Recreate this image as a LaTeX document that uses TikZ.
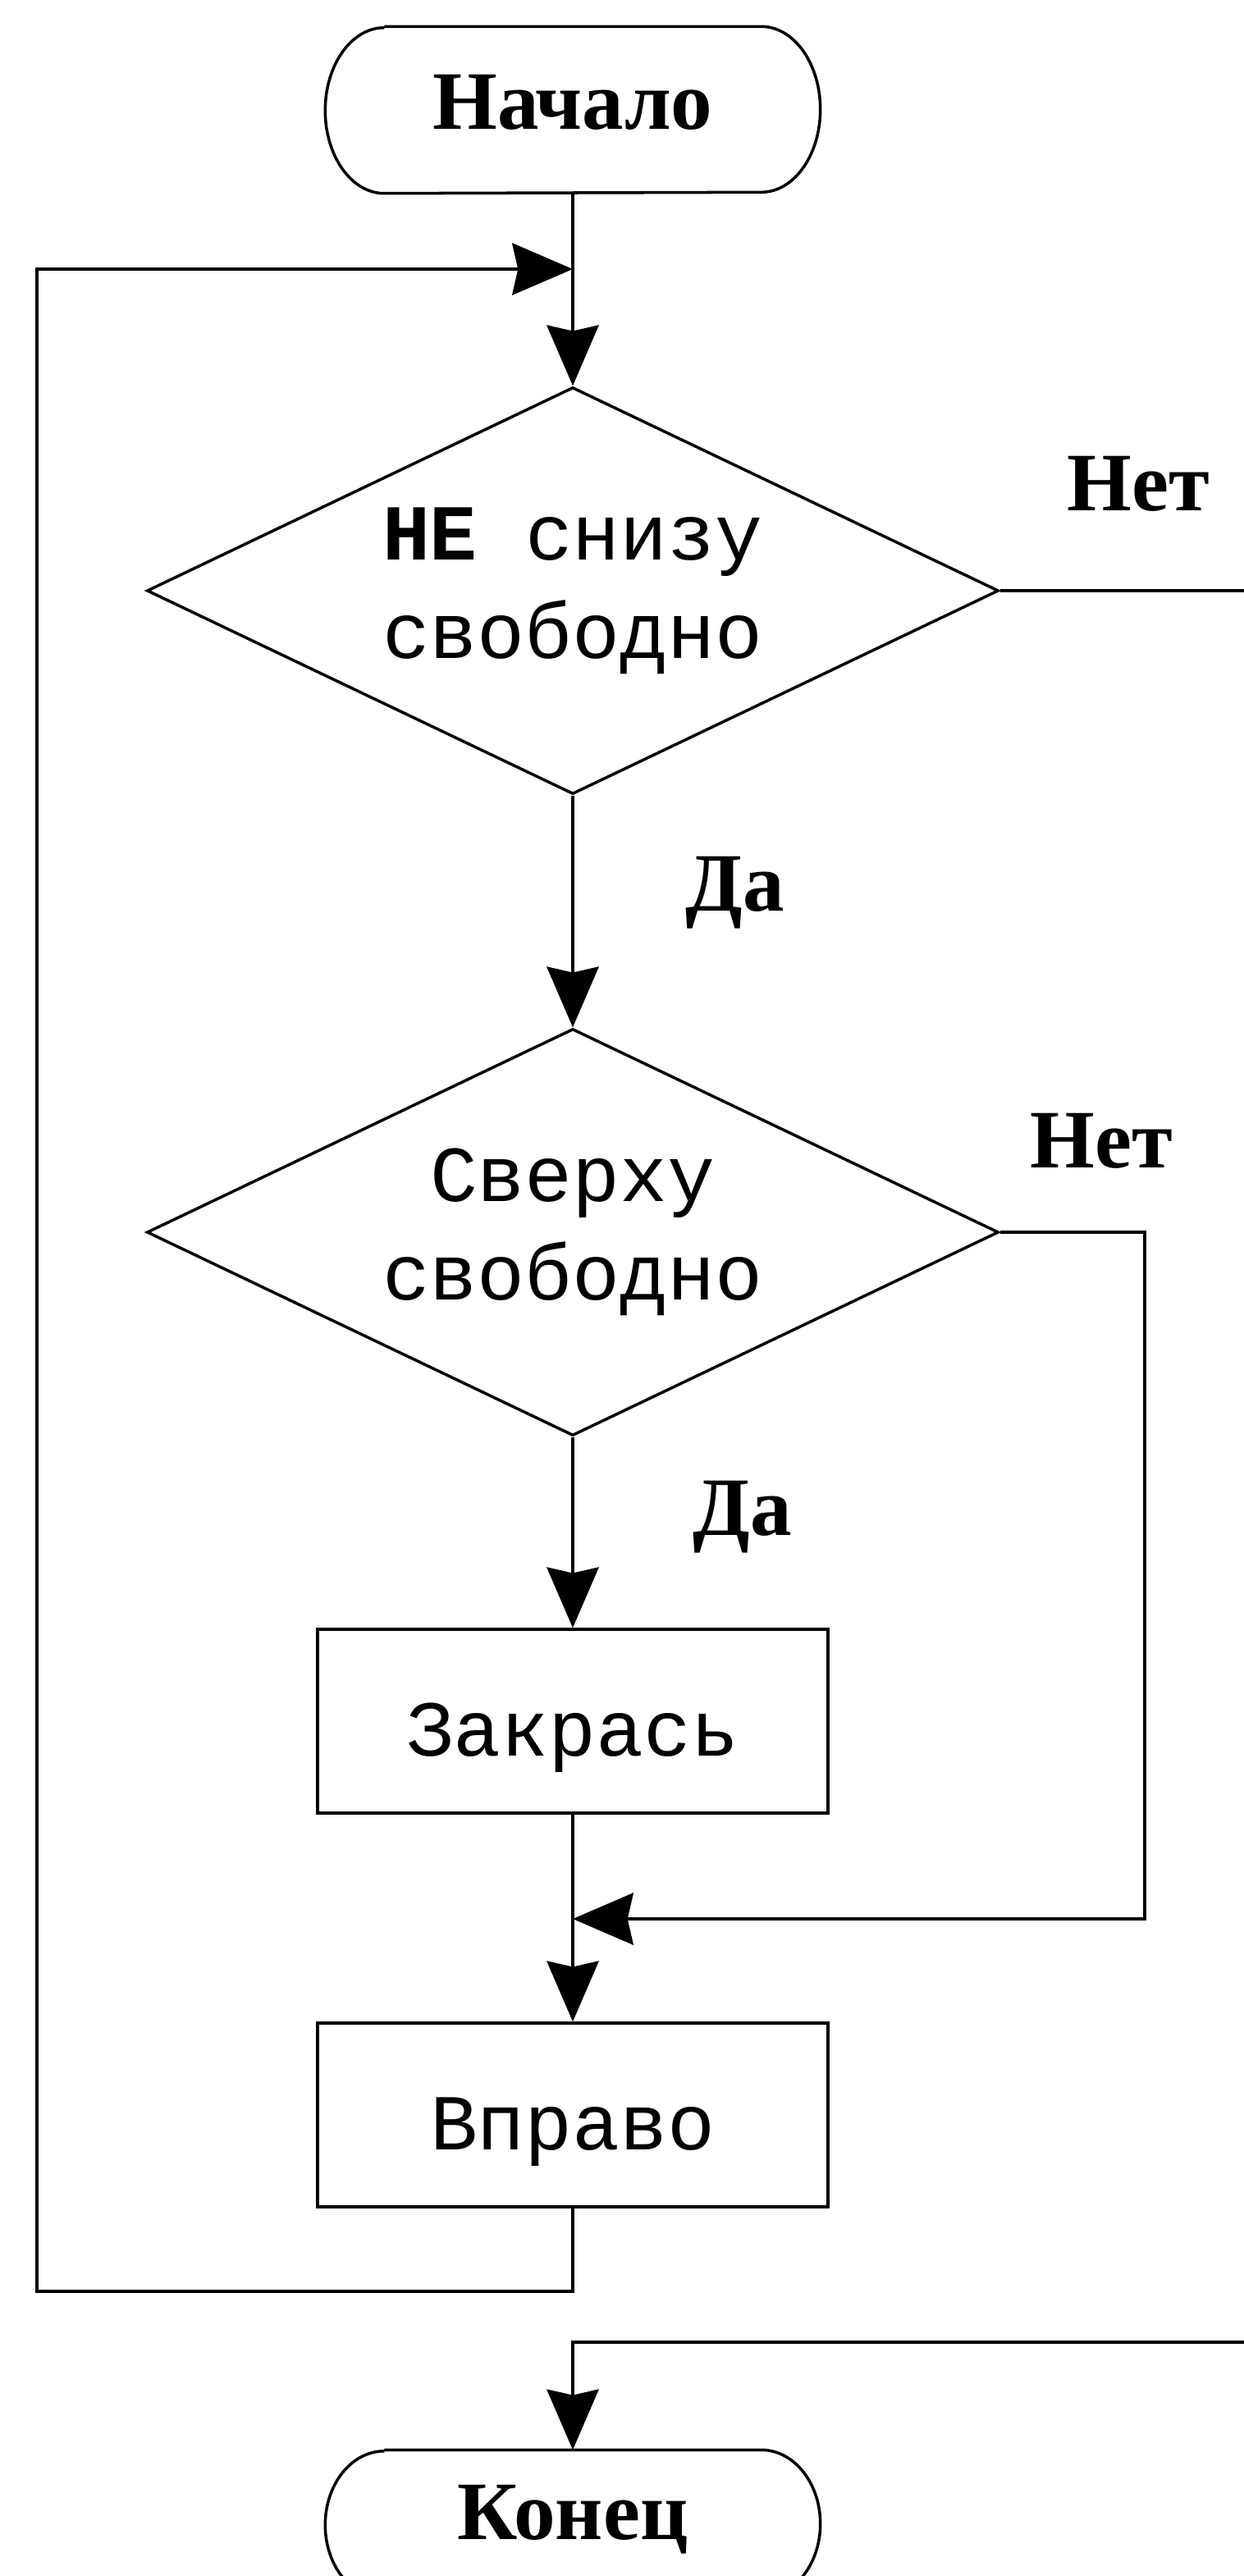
\documentclass[tikz,border=0pt]{standalone}
\usepackage{fontspec}
\setmainfont{Liberation Serif}
\setmonofont{Liberation Mono}
\usetikzlibrary{arrows.meta,shapes.geometric}
\tikzset{
    terminal/.style={minimum width=6.02cm, minimum height=#1,
                     inner sep=0pt, text depth=0pt,
                     font=\fontsize{28.8}{34}\selectfont\bfseries,
                     append after command={\pgfextra{
                         \draw[line width=1pt]
                             ([xshift=0.72cm]\tikzlastnode.north west)
                             -- ([xshift=-0.72cm]\tikzlastnode.north east)
                             arc[start angle=90, end angle=-90,
                                 x radius=0.72cm, y radius=#1/2]
                             -- ([xshift=0.72cm]\tikzlastnode.south west)
                             arc[start angle=270, end angle=90,
                                 x radius=0.72cm, y radius=#1/2];}}},
    decision/.style={diamond, draw, line width=1pt, aspect=2.09,
                     minimum width=10.38cm, minimum height=4.96cm,
                     inner sep=0pt, align=center,
                     font=\fontsize{27.5}{34.1}\selectfont\ttfamily},
    action/.style={draw, line width=1pt, minimum width=6.22cm,
                   minimum height=2.24cm, inner sep=0pt,
                   text height=0.84cm, text depth=0pt,
                   font=\fontsize{27.5}{34.1}\selectfont\ttfamily},
    answer/.style={inner sep=0pt, anchor=base west,
                   font=\fontsize{28.8}{34}\selectfont\bfseries},
    flow/.style={-{Stealth[length=21pt, width=18pt, inset=2pt]},
                 line width=1pt},
}
\begin{document}
\begin{tikzpicture}

    \path[use as bounding box, clip] (0,0) rectangle (15.16,-31.40);

    \node[terminal=2.02cm, text height=0.46cm] (start) at (6.98,-1.34) {Начало};
    \node[decision] (free1) at (6.98,-7.20) {\textbf{НЕ} снизу\\свободно};
    \node[decision] (free2) at (6.98,-15.02) {Сверху\\свободно};
    \node[action] (paint) at (6.98,-20.98) {Закрась};
    \node[action] (move) at (6.98,-25.78) {Вправо};
    \node[terminal=1.80cm, text height=0.36cm] (stop) at (6.98,-30.77) {Конец};

    \node[answer] (no1) at (13.00,-6.22) {Нет};
    \node[answer] (yes1) at (8.35,-11.10) {Да};
    \node[answer] (no2) at (12.55,-14.23) {Нет};
    \node[answer] (yes2) at (8.44,-18.71) {Да};

    \coordinate (loopin) at (6.98,-3.28);
    \coordinate (join) at (6.98,-23.39);

    \draw[flow] (start) -- (free1);
    \draw[flow] (free1) -- (free2);
    \draw[flow] (free2) -- (paint);
    \draw[flow] (paint) -- (move);
    \draw[flow] (move.south) |- (0.45,-27.93) |- (loopin);
    \draw[flow] (free2.east) -| (13.95,-23.39) -- (join);
    \draw[flow] (free1.east) -| (16.00,-28.55) -| (stop.north);

\end{tikzpicture}
\end{document}
